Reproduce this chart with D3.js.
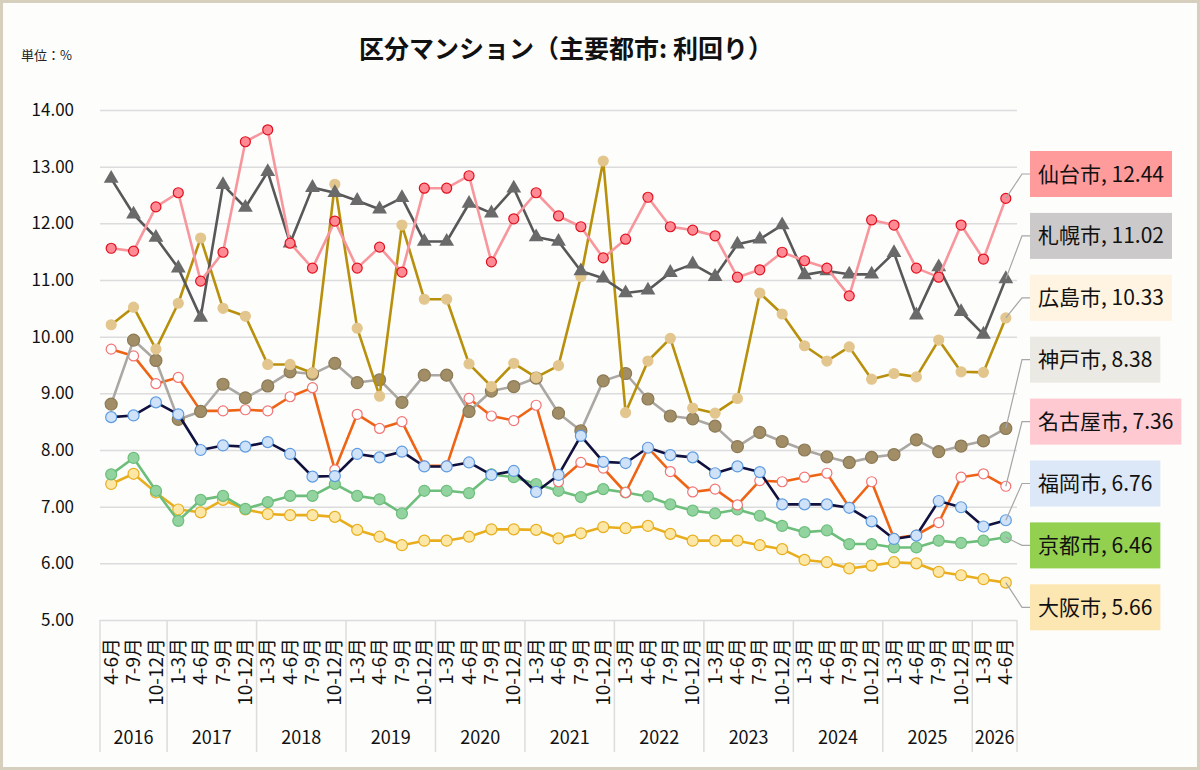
<!DOCTYPE html>
<html lang="ja">
<head>
    <meta charset="UTF-8">
    <title>区分マンション（主要都市: 利回り）</title>
    <script src="https://d3js.org/d3.v7.min.js"></script>
    <style>
        body { margin: 0; background: #fff; }
        svg { display: block; font-family: "Noto Sans CJK JP", "Noto Sans", sans-serif; }
    </style>
</head>
<body>
<script>
    // categories
    var years = ["2016", "2017", "2018", "2019", "2020", "2021", "2022", "2023", "2024", "2025", "2026"];
    var yearQuarters = [
        ["4-6月", "7-9月", "10-12月"],
        ["1-3月", "4-6月", "7-9月", "10-12月"],
        ["1-3月", "4-6月", "7-9月", "10-12月"],
        ["1-3月", "4-6月", "7-9月", "10-12月"],
        ["1-3月", "4-6月", "7-9月", "10-12月"],
        ["1-3月", "4-6月", "7-9月", "10-12月"],
        ["1-3月", "4-6月", "7-9月", "10-12月"],
        ["1-3月", "4-6月", "7-9月", "10-12月"],
        ["1-3月", "4-6月", "7-9月", "10-12月"],
        ["1-3月", "4-6月", "7-9月", "10-12月"],
        ["1-3月", "4-6月"]
    ];
    var yTicks = [5, 6, 7, 8, 9, 10, 11, 12, 13, 14];

    // series values (%)
    var sendai = [11.56, 11.51, 12.29, 12.54, 10.98, 11.49, 13.44, 13.65, 11.65, 11.21, 12.04, 11.21, 11.58, 11.14, 12.62, 12.62, 12.84, 11.32, 12.08, 12.54, 12.13, 11.94, 11.39, 11.72, 12.46, 11.94, 11.88, 11.78, 11.05, 11.18, 11.49, 11.34, 11.21, 10.72, 12.06, 11.97, 11.21, 11.05, 11.97, 11.37, 12.44];
    var sapporo = [12.79, 12.16, 11.75, 11.21, 10.34, 12.68, 12.28, 12.91, 11.65, 12.63, 12.54, 12.40, 12.25, 12.45, 11.68, 11.68, 12.35, 12.18, 12.62, 11.76, 11.68, 11.16, 11.03, 10.77, 10.82, 11.13, 11.28, 11.06, 11.63, 11.72, 11.97, 11.09, 11.16, 11.10, 11.10, 11.48, 10.38, 11.23, 10.44, 10.04, 11.02];
    var hiroshima = [10.21, 10.52, 9.78, 10.59, 11.74, 10.50, 10.36, 9.51, 9.51, 9.36, 12.69, 10.15, 8.95, 11.97, 10.66, 10.66, 9.52, 9.12, 9.53, 9.28, 9.49, 11.06, 13.10, 8.66, 9.57, 9.97, 8.74, 8.65, 8.91, 10.77, 10.40, 9.84, 9.57, 9.82, 9.25, 9.35, 9.29, 9.94, 9.38, 9.37, 10.33];
    var kobe = [8.81, 9.94, 9.58, 8.54, 8.68, 9.16, 8.92, 9.13, 9.38, 9.34, 9.53, 9.19, 9.24, 8.84, 9.32, 9.32, 8.68, 9.04, 9.12, 9.27, 8.65, 8.34, 9.22, 9.35, 8.90, 8.60, 8.55, 8.42, 8.06, 8.31, 8.15, 8.00, 7.88, 7.78, 7.87, 7.92, 8.18, 7.97, 8.07, 8.16, 8.38];
    var nagoya = [9.78, 9.66, 9.17, 9.28, 8.69, 8.69, 8.71, 8.69, 8.94, 9.10, 7.65, 8.63, 8.38, 8.50, 7.72, 7.72, 8.91, 8.60, 8.52, 8.79, 7.44, 7.78, 7.68, 7.25, 8.04, 7.62, 7.26, 7.31, 7.03, 7.46, 7.44, 7.52, 7.59, 6.99, 7.44, 6.44, 6.50, 6.72, 7.52, 7.58, 7.36];
    var fukuoka = [8.58, 8.61, 8.84, 8.63, 8.00, 8.08, 8.06, 8.14, 7.93, 7.53, 7.54, 7.93, 7.87, 7.97, 7.71, 7.71, 7.78, 7.56, 7.63, 7.26, 7.56, 8.25, 7.79, 7.77, 8.04, 7.91, 7.87, 7.59, 7.71, 7.61, 7.04, 7.04, 7.04, 6.98, 6.74, 6.43, 6.49, 7.10, 6.99, 6.65, 6.76];
    var kyoto = [7.57, 7.86, 7.28, 6.75, 7.12, 7.19, 6.96, 7.08, 7.19, 7.19, 7.40, 7.19, 7.13, 6.88, 7.28, 7.28, 7.24, 7.57, 7.52, 7.40, 7.28, 7.17, 7.31, 7.25, 7.18, 7.04, 6.93, 6.88, 6.95, 6.84, 6.66, 6.55, 6.58, 6.34, 6.34, 6.28, 6.28, 6.40, 6.36, 6.40, 6.46];
    var osaka = [7.40, 7.58, 7.25, 6.95, 6.90, 7.12, 6.95, 6.87, 6.85, 6.85, 6.82, 6.59, 6.47, 6.32, 6.40, 6.40, 6.47, 6.60, 6.60, 6.59, 6.44, 6.53, 6.64, 6.62, 6.66, 6.52, 6.40, 6.40, 6.40, 6.32, 6.25, 6.06, 6.02, 5.91, 5.96, 6.02, 6.00, 5.85, 5.79, 5.72, 5.66];

    var cityNames = ["仙台市", "札幌市", "広島市", "神戸市", "名古屋市", "福岡市", "京都市", "大阪市"];
    var cityValues = [sendai, sapporo, hiroshima, kobe, nagoya, fukuoka, kyoto, osaka];

    // styles per city (same order as cityNames)
    var styles = [
        { line: "#F7969C", fill: "#FF8A94", stroke: "#E0101E", r: 5, shape: "circle", label: "#FF9B9B" },
        { line: "#585858", fill: "#6A6A6A", stroke: "#6A6A6A", r: 7, shape: "triangle", label: "#CBC9C9" },
        { line: "#B8900C", fill: "#E3C68E", stroke: "#E3C68E", r: 5, shape: "circle", label: "#FFF3E1" },
        { line: "#ABA7A3", fill: "#A28E66", stroke: "#8C7A55", r: 6, shape: "circle", label: "#EBE9E3" },
        { line: "#EE6414", fill: "#FFFFFF", stroke: "#F27474", r: 5, shape: "circle", label: "#FFC9D1" },
        { line: "#11113F", fill: "#CFE2F8", stroke: "#5D9BE0", r: 5.5, shape: "circle", label: "#DCE8F8" },
        { line: "#6DBE7B", fill: "#92D3A0", stroke: "#6DBE7B", r: 5.5, shape: "circle", label: "#93D050" },
        { line: "#E8AE1E", fill: "#FCE7A6", stroke: "#E8AE1E", r: 5.5, shape: "circle", label: "#FCE6B2" }
    ];

    var W = 1200, H = 770;
    var plotL = 100, plotR = 1017, plotT = 110, plotB = 620;

    var periods = [];
    years.forEach(function(yv, yi) {
        yearQuarters[yi].forEach(function(q) { periods.push({ year: yv, q: q, key: yv + " " + q }); });
    });

    var x = d3.scaleBand()
        .domain(periods.map(function(d) { return d.key; }))
        .range([plotL, plotR]);
    var y = d3.scaleLinear()
        .domain([5, 14])
        .range([plotB, plotT]);

    var svg = d3.select("body").append("svg")
        .attr("width", W)
        .attr("height", H);

    // background and frame
    svg.append("rect")
        .attr("x", 1.5).attr("y", 1.5)
        .attr("width", W - 3).attr("height", H - 3)
        .attr("fill", "#FDFDFC")
        .attr("stroke", "#D6CFBE")
        .attr("stroke-width", 3);

    // title
    svg.append("text")
        .attr("x", 566).attr("y", 58)
        .attr("text-anchor", "middle")
        .attr("font-size", "25px")
        .attr("font-weight", "bold")
        .attr("fill", "#111")
        .text("区分マンション（主要都市: 利回り）");

    svg.append("text")
        .attr("x", 21).attr("y", 60)
        .attr("font-size", "13px")
        .attr("fill", "#222")
        .text("単位：%");

    // y axis with gridlines
    var yAxis = svg.append("g")
        .attr("transform", "translate(" + plotL + ",0)")
        .call(d3.axisLeft(y).tickValues(yTicks).tickFormat(d3.format(".2f")).tickSize(-(plotR - plotL)).tickPadding(26));
    yAxis.select(".domain").remove();
    yAxis.selectAll(".tick line").attr("stroke", "#DCDCDC").attr("stroke-width", 1.5);
    yAxis.selectAll(".tick text")
        .attr("font-size", "17px")
        .attr("fill", "#111")
        .attr("font-family", "'Noto Sans CJK JP', sans-serif");

    // category axis: quarter labels
    var xAxis = svg.append("g")
        .attr("transform", "translate(0," + plotB + ")")
        .call(d3.axisBottom(x).tickSize(0).tickFormat(function(d) { return d.split(" ")[1]; }));
    xAxis.select(".domain").remove();
    xAxis.selectAll(".tick text")
        .attr("transform", "rotate(-90)")
        .attr("text-anchor", "end")
        .attr("x", -18)
        .attr("y", 0)
        .attr("dy", "0.35em")
        .attr("font-size", "19px")
        .attr("fill", "#111")
        .attr("font-family", "'Noto Sans CJK JP', sans-serif");

    // year groups
    var yearGroups = years.map(function(yv, yi) {
        var keys = yearQuarters[yi].map(function(q) { return yv + " " + q; });
        return { year: yv, x0: x(keys[0]), x1: x(keys[keys.length - 1]) + x.bandwidth() };
    });
    var boundaries = [plotL].concat(yearGroups.map(function(g) { return g.x1; }));
    svg.selectAll(".sep")
        .data(boundaries)
        .enter().append("line")
        .attr("class", "sep")
        .attr("x1", function(d) { return d; })
        .attr("x2", function(d) { return d; })
        .attr("y1", plotB)
        .attr("y2", 752)
        .attr("stroke", "#DCDCDC")
        .attr("stroke-width", 1.5);
    svg.selectAll(".year")
        .data(yearGroups)
        .enter().append("text")
        .attr("class", "year")
        .attr("x", function(d) { return (d.x0 + d.x1) / 2; })
        .attr("y", 744)
        .attr("text-anchor", "middle")
        .attr("font-size", "18px")
        .attr("fill", "#111")
        .text(function(d) { return d.year; });

    // series
    var series = cityNames.map(function(name, i) {
        return { name: name, values: cityValues[i], style: styles[i] };
    });
    var cx = function(d, i) { return x(periods[i].key) + x.bandwidth() / 2; };
    var line = d3.line()
        .x(cx)
        .y(function(d) { return y(d); });

    var drawOrder = [7, 6, 4, 3, 5, 2, 1, 0];
    var triangle = d3.symbol().type(d3.symbolTriangle).size(95);

    drawOrder.forEach(function(si) {
        var s = series[si];
        var g = svg.append("g");
        g.append("path")
            .datum(s.values)
            .attr("d", line)
            .attr("fill", "none")
            .attr("stroke", s.style.line)
            .attr("stroke-width", 2.6)
            .attr("stroke-linejoin", "round");
        if (s.style.shape === "triangle") {
            g.selectAll("path.mk")
                .data(s.values)
                .enter().append("path")
                .attr("class", "mk")
                .attr("d", triangle)
                .attr("transform", function(d, i) { return "translate(" + cx(d, i) + "," + y(d) + ")"; })
                .attr("fill", s.style.fill);
        } else {
            g.selectAll("circle")
                .data(s.values)
                .enter().append("circle")
                .attr("cx", cx)
                .attr("cy", function(d) { return y(d); })
                .attr("r", s.style.r)
                .attr("fill", s.style.fill)
                .attr("stroke", s.style.stroke)
                .attr("stroke-width", 1.2);
        }
    });

    // end labels with leader lines
    var lastIdx = periods.length - 1;
    var labelX = 1030;
    var labelTop = 174, labelStep = 61.9;
    var order = series.slice().sort(function(a, b) {
        return b.values[lastIdx] - a.values[lastIdx];
    });
    order.forEach(function(s, k) {
        var v = s.values[lastIdx];
        var px = cx(v, lastIdx), py = y(v);
        var ly = labelTop + k * labelStep;
        svg.append("polyline")
            .attr("points", [[px, py], [labelX - 8, ly], [labelX, ly]].join(" "))
            .attr("fill", "none")
            .attr("stroke", "#A6A6A6")
            .attr("stroke-width", 1.2);
        var g = svg.append("g");
        var rect = g.append("rect");
        var t = g.append("text")
            .attr("x", labelX + 8)
            .attr("y", ly)
            .attr("dy", "0.36em")
            .attr("font-size", "21px")
            .attr("fill", "#111")
            .text(s.name + ", " + d3.format(".2f")(v));
        var tw = t.node().getComputedTextLength();
        rect.attr("x", labelX)
            .attr("y", ly - 23)
            .attr("width", tw + 16)
            .attr("height", 46)
            .attr("fill", s.style.label);
    });
</script>
</body>
</html>
